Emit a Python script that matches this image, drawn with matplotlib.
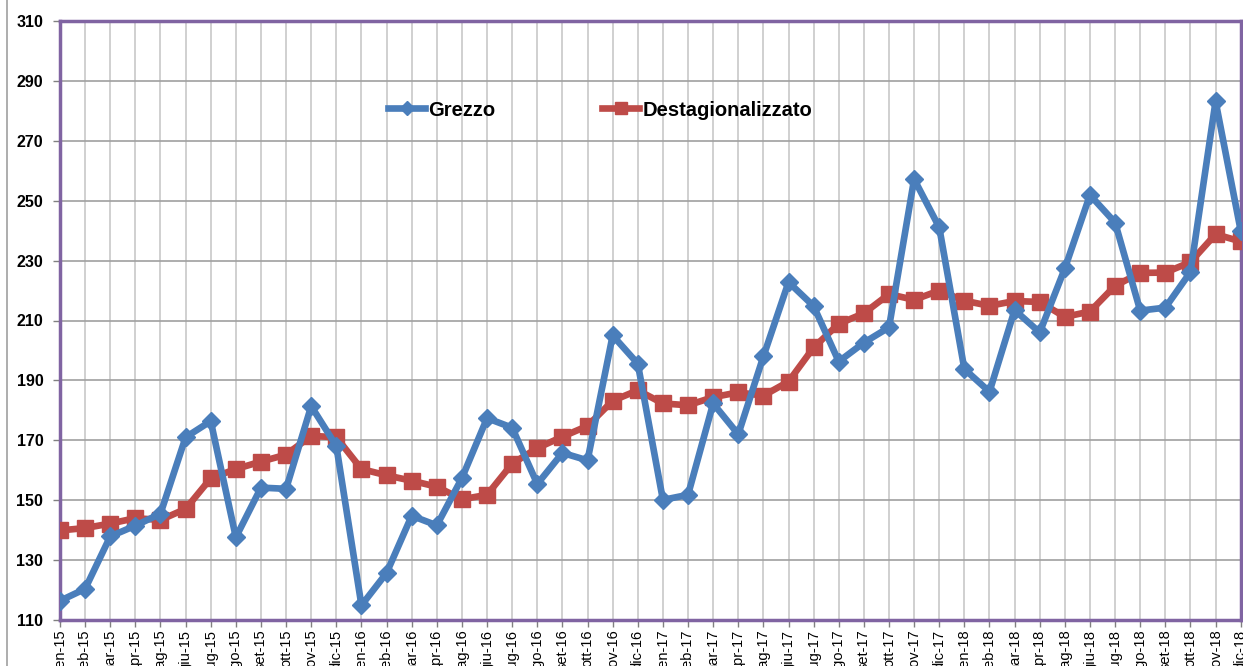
import matplotlib
matplotlib.use('Agg')
import matplotlib.pyplot as plt
from matplotlib.lines import Line2D

plt.rcParams['font.family'] = ['Liberation Sans', 'DejaVu Sans']

mesi = ['gen', 'feb', 'mar', 'apr', 'mag', 'giu', 'lug', 'ago', 'set', 'ott', 'nov', 'dic']
anni = ['15', '16', '17', '18']
etichette = [m + '-' + a for a in anni for m in mesi]

grezzo = [116.4, 120.4, 137.9, 141.5, 145.5, 171.0, 176.4, 137.6, 154.2, 153.8, 181.4, 168.1,
          114.9, 125.7, 144.8, 141.6, 157.4, 177.4, 174.2, 155.4, 165.8, 163.3, 205.0, 195.6,
          150.1, 151.8, 182.3, 172.0, 198.0, 222.8, 214.8, 196.3, 202.6, 207.7, 257.2, 241.1,
          193.8, 186.2, 213.5, 206.0, 227.4, 251.9, 242.7, 213.3, 214.3, 226.2, 283.2, 240.0]

destag = [139.9, 140.7, 142.2, 144.0, 143.4, 147.1, 157.3, 160.4, 162.9, 165.2, 171.5, 171.0,
          160.4, 158.3, 156.5, 154.5, 150.3, 151.8, 162.2, 167.4, 171.2, 174.8, 183.2, 186.7,
          182.3, 181.7, 184.4, 186.0, 184.9, 189.6, 201.0, 208.9, 212.4, 218.8, 216.9, 220.0,
          216.6, 214.9, 216.5, 216.2, 211.2, 213.0, 221.6, 225.9, 226.0, 229.5, 238.8, 236.4]

blu = '#4a7ebb'
rosso = '#be4b48'
viola = '#8064a2'

fig = plt.figure(figsize=(12.43, 6.66), dpi=100)
ax = fig.add_axes([60 / 1243, 1 - 620 / 666, (1240.7 - 60) / 1243, (620 - 21) / 666])

x = list(range(len(etichette)))
ax.plot(x, grezzo, '-D', color=blu, lw=4.8, ms=9, label='Grezzo', zorder=4)
ax.plot(x, destag, '-s', color=rosso, lw=4.8, ms=11, label='Destagionalizzato', zorder=3)

ax.set_xlim(0, len(etichette) - 1)
ax.set_ylim(110, 310)
ax.set_yticks(range(110, 311, 20))
ax.set_xticks(x)
ax.set_xticklabels(etichette, rotation=90, fontsize=10.5)
for t in ax.get_yticklabels():
    t.set_fontweight('bold')
    t.set_fontsize(11.5)

ax.yaxis.grid(True, color='#a0a0a0', lw=1.2)
ax.xaxis.grid(True, color='#c8c8c8', lw=1.2)
ax.set_axisbelow(True)
for s in ax.spines.values():
    s.set_color(viola)
    s.set_linewidth(2.5)
ax.tick_params(axis='both', direction='out', length=5, color='#808080', width=1)
ax.tick_params(axis='y', pad=7)
ax.tick_params(axis='x', pad=2)

leg = ax.legend(loc='center left', bbox_to_anchor=((388 - 60) / 1180.7, (620 - 110) / 599),
                ncol=2, frameon=False, borderaxespad=0, borderpad=0,
                prop={'weight': 'bold', 'size': 14.5}, handlelength=1.85,
                handletextpad=0.15, columnspacing=5.3, markerscale=0.8)

fig.add_artist(Line2D([7 / 1243, 7 / 1243], [0, 1], color='#a0a0a0', lw=1.2))

fig.savefig('out.png', dpi=100)
